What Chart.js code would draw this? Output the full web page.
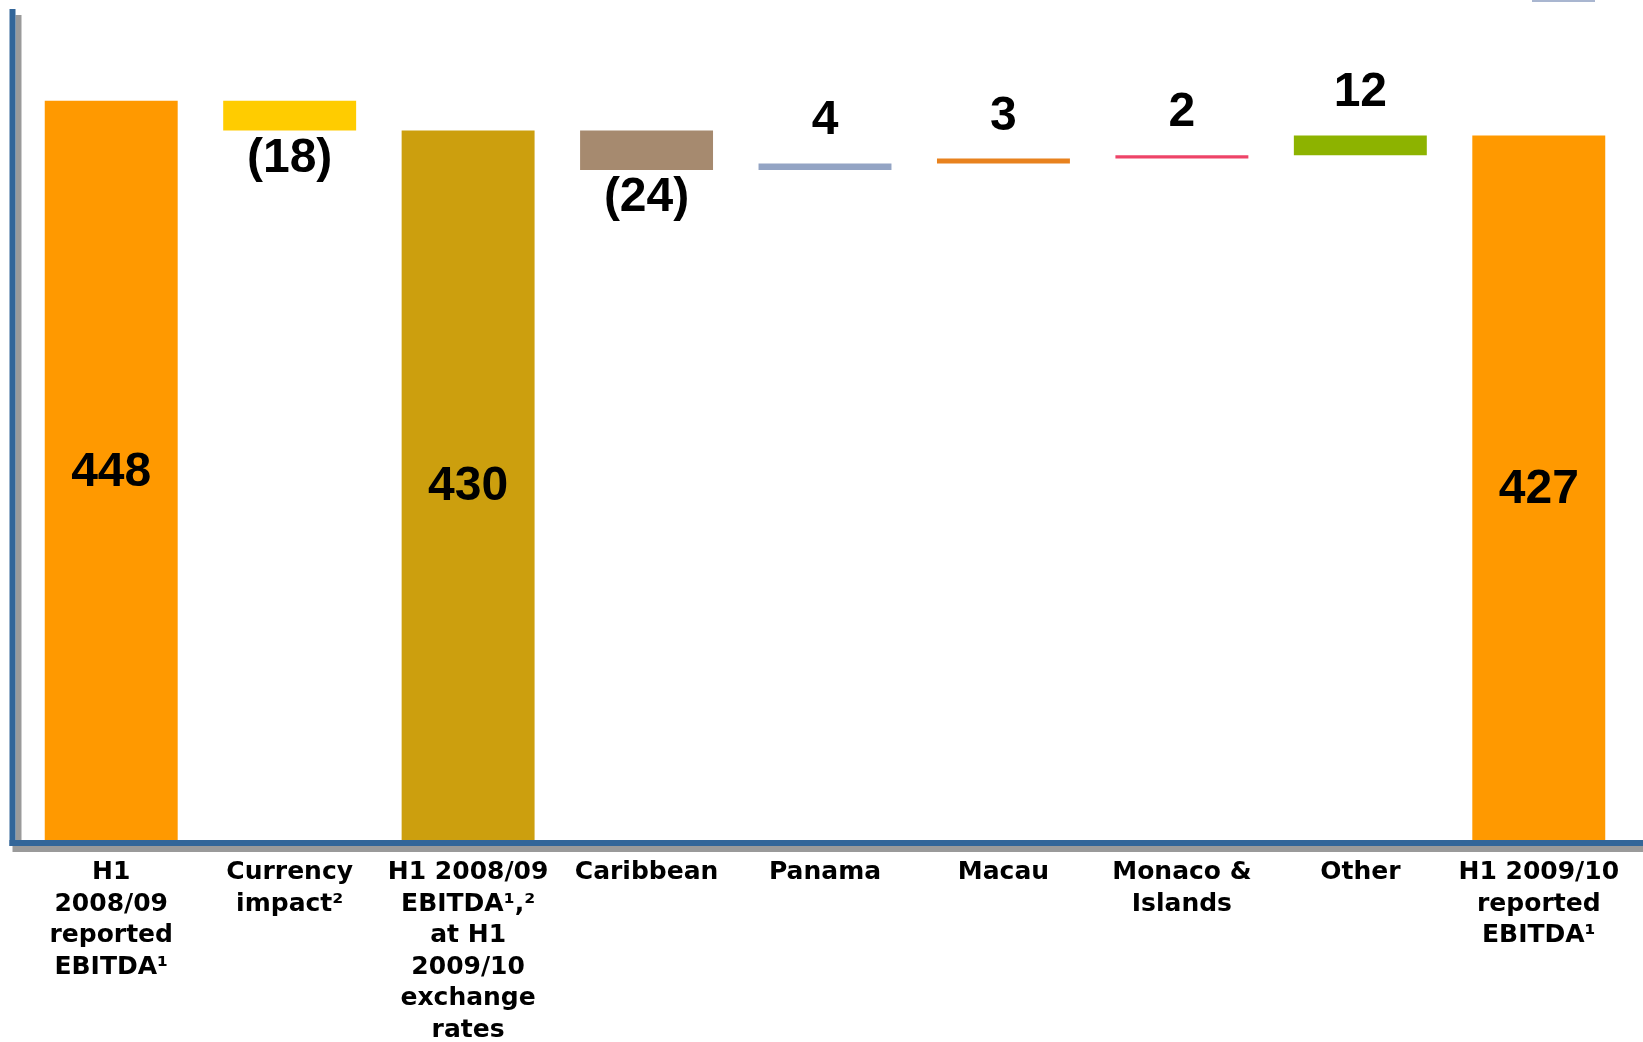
<!DOCTYPE html>
<html>
<head>
<meta charset="utf-8">
<script src="https://cdn.jsdelivr.net/npm/chart.js@4.4.1/dist/chart.umd.min.js"></script>
<style>
  html, body { margin: 0; padding: 0; background: #fff; }
  canvas { display: block; }
</style>
</head>
<body>
<canvas id="ebitda" width="1643" height="1042"></canvas>
<script>
// EBITDA bridge, H1 2008/09 -> H1 2009/10
const categories = [
  ["H1", "2008/09", "reported", "EBITDA¹"],
  ["Currency", "impact²"],
  ["H1 2008/09", "EBITDA¹,²", "at H1", "2009/10", "exchange", "rates"],
  ["Caribbean"],
  ["Panama"],
  ["Macau"],
  ["Monaco &", "Islands"],
  ["Other"],
  ["H1 2009/10", "reported", "EBITDA¹"]
];
const changes = [448, -18, 430, -24, 4, 3, 2, 12, 427];
const isTotal = [true, false, true, false, false, false, false, false, true];
const barColors = ["#FF9900", "#FFCC00", "#CC9F0E", "#A68A6F", "#93A4C4", "#E8821E", "#EE4468", "#8DB300", "#FF9900"];

// floating bars: totals start at 0, changes start at the running total
let running = 0;
const ranges = changes.map((v, i) => {
  if (isTotal[i]) { running = v; return [0, v]; }
  const start = running;
  running += v;
  return [start, running];
});

const AXIS_BLUE = "#336699";
const AXIS_GREY = "#9A9A9A";

// blue L-shaped axis with a grey drop shadow
const axisFrame = {
  id: "axisFrame",
  beforeDraw(chart) {
    const { ctx, chartArea } = chart;
    const x0 = chartArea.left - 12.5;
    const yb = chartArea.bottom;
    ctx.save();
    ctx.fillStyle = AXIS_GREY;
    ctx.fillRect(x0 + 6, 15, 6, yb - 15 + 12);
    ctx.fillRect(x0 + 3, yb + 6, chart.width, 6);
    ctx.fillStyle = AXIS_BLUE;
    ctx.fillRect(x0, 9, 6, yb - 9 + 6);
    ctx.fillRect(x0, yb, chart.width, 6);
    // small cropped box edge at the top right
    ctx.fillStyle = "#A9B6D0";
    ctx.fillRect(1532, 0, 63, 2);
    ctx.restore();
  }
};

// value labels: totals inside, drops below, gains above
const valueLabels = {
  id: "valueLabels",
  afterDatasetsDraw(chart) {
    const { ctx } = chart;
    const meta = chart.getDatasetMeta(0);
    ctx.save();
    ctx.fillStyle = "#000";
    ctx.font = "bold 48px 'Liberation Sans', Arial, sans-serif";
    ctx.textAlign = "center";
    meta.data.forEach((bar, i) => {
      const v = changes[i];
      const top = Math.min(bar.y, bar.base);
      const bottom = Math.max(bar.y, bar.base);
      const text = v < 0 ? "(" + Math.abs(v) + ")" : String(v);
      if (isTotal[i]) {
        ctx.textBaseline = "middle";
        ctx.fillText(text, bar.x, (top + bottom) / 2 + 2);
      } else if (v < 0) {
        ctx.textBaseline = "top";
        ctx.fillText(text, bar.x, bottom + 4);
      } else {
        ctx.textBaseline = "alphabetic";
        ctx.fillText(text, bar.x, top - 29);
      }
    });
    ctx.restore();
  }
};

new Chart(document.getElementById("ebitda"), {
  type: "bar",
  data: {
    labels: categories,
    datasets: [{
      data: ranges,
      backgroundColor: barColors,
      borderWidth: 0,
      categoryPercentage: 1,
      barPercentage: 0.745
    }]
  },
  options: {
    responsive: false,
    animation: false,
    layout: { padding: { left: 22, right: 15, top: 10, bottom: 0 } },
    plugins: {
      legend: { display: false },
      tooltip: { enabled: false }
    },
    scales: {
      x: {
        grid: { display: false, drawTicks: false },
        border: { display: false },
        ticks: {
          color: "#000",
          font: { family: "'DejaVu Sans', sans-serif", size: 25, weight: "bold", lineHeight: 1.26 },
          padding: 17,
          maxRotation: 0,
          minRotation: 0,
          autoSkip: false
        },
        afterFit(scale) { scale.height = 202; }
      },
      y: {
        display: false,
        min: 0,
        max: 503
      }
    }
  },
  plugins: [axisFrame, valueLabels]
});
</script>
</body>
</html>
